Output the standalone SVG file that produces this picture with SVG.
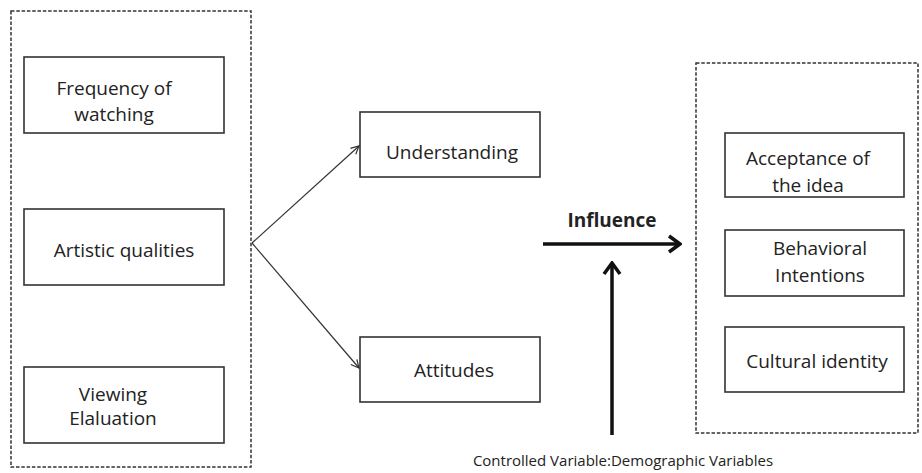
<svg xmlns="http://www.w3.org/2000/svg" width="922" height="473" viewBox="0 0 922 473">
<style>
.box{fill:#fff;stroke:#333;stroke-width:1.6}
.grp{fill:none;stroke:#333;stroke-width:1.5;stroke-dasharray:3.5 1.8}
.t{font-family:"Open Sans","Liberation Sans",sans-serif;font-size:19px;fill:#222;text-anchor:middle}
.thin{stroke:#333;stroke-width:1.2;fill:none}
.thick{stroke:#111;stroke-width:3.5;fill:none}
</style>
<defs>
<marker id="open" markerWidth="10" markerHeight="10" refX="9" refY="5" orient="auto" markerUnits="userSpaceOnUse">
<path d="M1,1 L9,5 L1,9" fill="none" stroke="#333" stroke-width="1.2"/>
</marker>
<marker id="big" markerWidth="16" markerHeight="20" refX="14" refY="10" orient="auto" markerUnits="userSpaceOnUse">
<path d="M3,2 L14,10 L3,18" fill="none" stroke="#111" stroke-width="3.5"/>
</marker>
</defs>
<rect class="grp" x="11" y="11" width="240" height="456"/>
<rect class="grp" x="696" y="63" width="222" height="370"/>
<g id="n-frequency"><rect class="box" x="24" y="57" width="200" height="76"/><text class="t" x="114" y="95">Frequency of</text><text class="t" x="114" y="121">watching</text></g>
<g id="n-artistic"><rect class="box" x="24" y="209" width="200" height="76"/><text class="t" x="124" y="257">Artistic qualities</text></g>
<g id="n-viewing"><rect class="box" x="24" y="367" width="200" height="76"/><text class="t" x="113" y="401">Viewing</text><text class="t" x="113" y="425">Elaluation</text></g>
<g id="n-understanding"><rect class="box" x="360" y="112" width="180" height="65"/><text class="t" x="452" y="159">Understanding</text></g>
<g id="n-attitudes"><rect class="box" x="360" y="337" width="180" height="65"/><text class="t" x="454" y="377">Attitudes</text></g>
<g id="n-acceptance"><rect class="box" x="725" y="133" width="179" height="64"/><text class="t" x="808" y="165">Acceptance of</text><text class="t" x="808" y="192">the idea</text></g>
<g id="n-behavioral"><rect class="box" x="725" y="230" width="179" height="66"/><text class="t" x="820" y="255">Behavioral</text><text class="t" x="820" y="282">Intentions</text></g>
<g id="n-cultural"><rect class="box" x="725" y="327" width="179" height="65"/><text class="t" x="817" y="368">Cultural identity</text></g>
<g id="n-influence"><text class="t" x="612" y="227" style="font-weight:bold">Influence</text></g>
<g id="n-control"><text class="t" x="623" y="466" style="font-size:15px">Controlled Variable:Demographic Variables</text></g>
<g id="connectors">
<line class="thin" x1="252" y1="243" x2="359" y2="146" marker-end="url(#open)"/>
<line class="thin" x1="252" y1="243" x2="359" y2="368" marker-end="url(#open)"/>
<line class="thick" x1="543" y1="244" x2="680" y2="244" marker-end="url(#big)"/>
<line class="thick" x1="612" y1="435" x2="612" y2="263" marker-end="url(#big)"/>
</g>
</svg>
